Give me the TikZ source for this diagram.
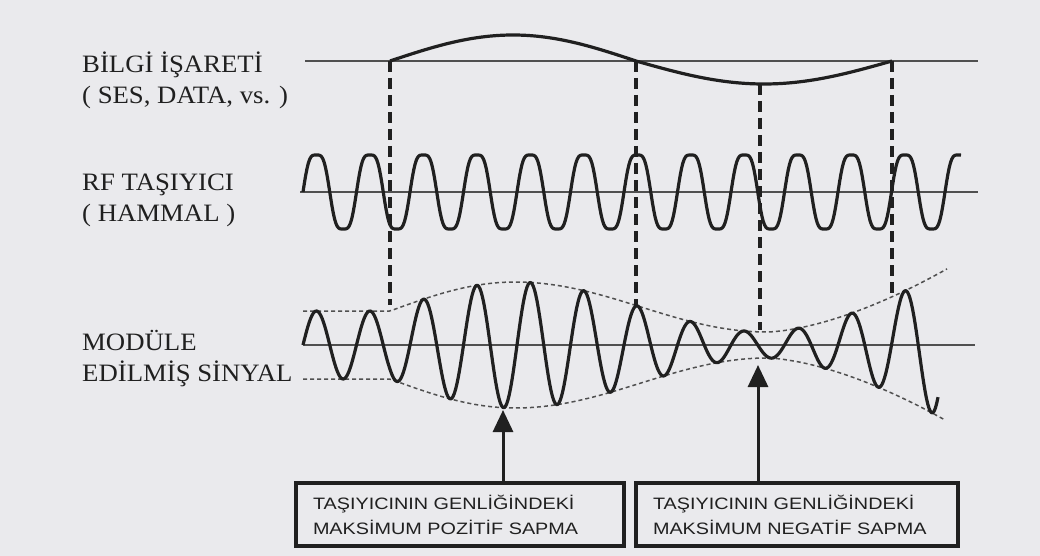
\documentclass[tikz,border=0pt]{standalone}
\usepackage{fontspec}
\setmainfont{Liberation Serif}[FakeStretch=1.07]
\newfontfamily\boxfont{Liberation Sans}[FakeStretch=1.2]
\usetikzlibrary{arrows.meta}
\definecolor{paper}{HTML}{EAEAED}
\definecolor{ink}{HTML}{202020}
\definecolor{axisgray}{HTML}{505050}

\begin{document}
\begin{tikzpicture}[x=1pt,y=-1pt,
  declare function={
    env(\x)=(\x<390) ? 34 : ((\x<515) ? 34+29*sin((\x-390)*0.72) : ((\x<767) ? 38+25*cos((\x-515)/252*180) : 13+62*((max(\x,768)-767)/178)^1.6));
    ph(\x)=(\x-303)/53.5*360;
    car(\x)=(sin(ph(\x))+sin(3*ph(\x))/9)*9/8;
  },
  lbl/.style={anchor=west,align=left,font=\fontsize{25}{31}\selectfont,text=ink,inner sep=0pt},
  axisline/.style={draw=axisgray,line width=1.6pt},
  wave/.style={draw=ink,line width=3.2pt,line join=round},
  guide/.style={draw=ink,line width=3.4pt,dash pattern=on 11pt off 6pt},
  envl/.style={draw=axisgray,line width=1.5pt,dash pattern=on 4pt off 3pt},
  notebox/.style={draw=ink,line width=3.2pt,minimum height=63pt,align=left,inner xsep=17pt,font=\boxfont\fontsize{16.5}{25}\selectfont,text=ink},
  arr/.style={-{Triangle[length=22pt,width=20pt]},line width=3pt,draw=ink}]
\fill[paper] (0,0) rectangle (1040,556);
\useasboundingbox (0,0) rectangle (1040,556);
\node[lbl] (infolbl) at (82,80) {BİLGİ İŞARETİ\\( SES, DATA, vs. )};
\node[lbl] (carlbl) at (82,200) {RF TAŞIYICI\\( HAMMAL )};
\node[lbl] (modlbl) at (82,359) {MODÜLE\\EDİLMİŞ SİNYAL};
\draw[axisline] (305,61) -- (978,61);
\draw[axisline] (300,192) -- (978,192);
\draw[axisline] (303,345) -- (975,345);
\draw[wave] plot[domain=390:636,samples=60] (\x,{61-26*sin((\x-390)/246*180)}) -- plot[domain=636:892,samples=60] (\x,{61+23*sin((\x-636)/256*180)});
\draw[wave] plot[domain=303:961,samples=500] (\x,{192-37*car(\x)});
\draw[envl] plot[domain=303:947,samples=150] (\x,{345-env(\x)});
\draw[envl] plot[domain=303:945,samples=150] (\x,{345+env(\x)});
\draw[wave] plot[domain=303:938,samples=500] (\x,{345-env(\x)*sin(ph(\x))});
\foreach \gx/\gtop/\gbot in {390/61/305, 636/61/306, 760/84/330, 892/61/297}
  \draw[guide] (\gx,\gtop) -- (\gx,\gbot);
\node[notebox,text width=294pt] (posbox) at (460,514.5) {TAŞIYICININ GENLİĞİNDEKİ\\MAKSİMUM POZİTİF SAPMA};
\node[notebox,text width=288pt] (negbox) at (797,514.5) {TAŞIYICININ GENLİĞİNDEKİ\\MAKSİMUM NEGATİF SAPMA};
\coordinate (posmax) at (503,410);
\coordinate (negmin) at (758,365);
\draw[arr] (posbox.north -| posmax) -- (posmax);
\draw[arr] (negbox.north -| negmin) -- (negmin);
\end{tikzpicture}
\end{document}
